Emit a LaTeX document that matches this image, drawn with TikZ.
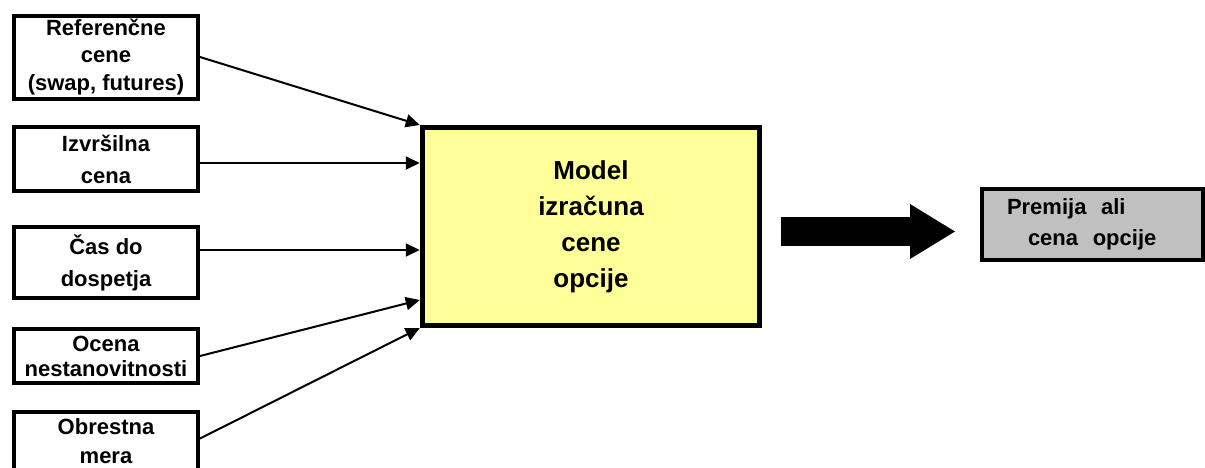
\documentclass[tikz,border=0pt]{standalone}
\usepackage{fontspec}
\setmainfont{Liberation Sans}
\usetikzlibrary{arrows.meta}

\begin{document}
\begin{tikzpicture}[x=0.5pt, y=-0.5pt,
	inbox/.style={draw, line width=2pt, minimum width=92pt, inner sep=0pt, align=center, font=\fontsize{11}{#1}\selectfont\bfseries},
	modelbox/.style={draw, line width=2.5pt, fill=modelyellow, minimum width=168.75pt, minimum height=99pt, align=center, font=\fontsize{13}{18}\selectfont\bfseries},
	outbox/.style={draw, line width=2pt, fill=outgray, minimum width=110.5pt, minimum height=35.5pt, inner sep=0pt, text width=85.5pt, align=left, font=\fontsize{11}{15.5}\selectfont\bfseries}]
	\definecolor{modelyellow}{RGB}{255,255,153}
	\definecolor{outgray}{RGB}{192,192,192}
	\useasboundingbox (0,0) rectangle (1205,467);
	
	\node[inbox=13.75pt, minimum height=41.5pt] (ref) at (106,57) {Referenčne\\cene\\(swap, futures)};
	\node[inbox=16pt, minimum height=32pt] (izv) at (106,159) {Izvršilna\\cena};
	\node[inbox=16pt, minimum height=35.5pt] (cas) at (106,262.5) {Čas do\\dospetja};
	\node[inbox=12.5pt, minimum height=27pt] (oce) at (106,356) {Ocena\\nestanovitnosti};
	\node[inbox=14.5pt, minimum height=30pt] (obr) at (106,441.5) {Obrestna\\mera};
	
	\node[modelbox] (model) at (591,226.5) {Model\\izračuna\\cene\\opcije};
	\node[outbox] (res) at (1092.5,224.5) {Premija~~ali\\\hspace*{10.5pt}cena~~opcije};
	
	\path[e/.style={-{Triangle[length=7pt, width=6.5pt]}, line width=1pt}]
	(ref.east) edge[e] (model.north west)
	([yshift=-2pt]izv.east) edge[e] ([yshift=-2pt]izv.east -| model.west)
	([yshift=6.25pt]cas.east) edge[e] ([yshift=6.25pt]cas.east -| model.west)
	(oce.east) edge[e] ([yshift=14pt]model.south west)
	([yshift=1.5pt]obr.east) edge[e] (model.south west);
	
	\draw[line width=14.5pt, -{Triangle[line width=0pt, length=22.5pt, width=27.5pt]}]
	([xshift=9.25pt, yshift=-2.5pt]model.east) -- ([xshift=-12.5pt, yshift=-2.5pt]model.east -| res.west);
	
\end{tikzpicture}
\end{document}
